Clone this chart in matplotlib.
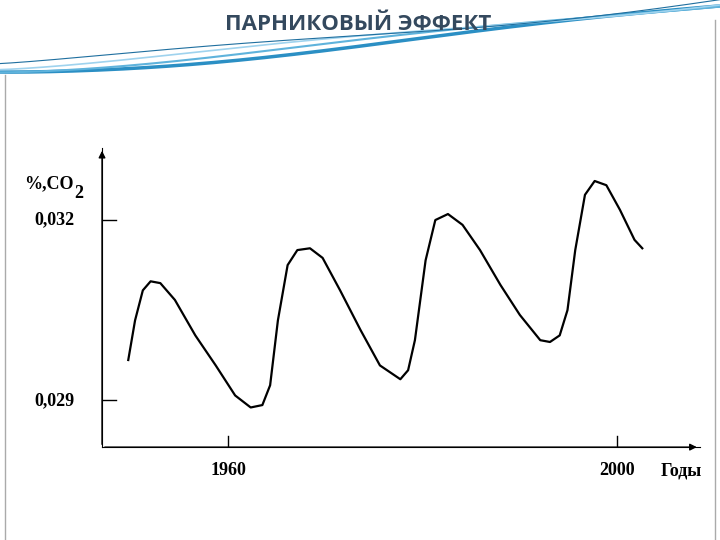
import matplotlib.pyplot as plt
import numpy as np

years = [1949.7, 1950.4, 1951.2, 1952.0, 1953.0, 1954.5, 1956.6, 1958.7, 1960.7, 1962.3,
         1963.5, 1964.3, 1965.1, 1966.1, 1967.1, 1968.4, 1969.7, 1971.5, 1973.6, 1975.6,
         1977.7, 1978.5, 1979.2, 1980.3, 1981.3, 1982.6, 1984.1, 1985.9, 1988.0, 1990.0,
         1992.1, 1993.1, 1994.1, 1994.9, 1995.7, 1996.7, 1997.7, 1998.9, 2000.3, 2001.8, 2002.6]
co2 = [0.02967, 0.03033, 0.03083, 0.03098, 0.03095, 0.03067, 0.03008, 0.02958, 0.02908, 0.02888,
       0.02892, 0.02925, 0.03033, 0.03125, 0.03150, 0.03153, 0.03137, 0.03083, 0.03017, 0.02958,
       0.02935, 0.02950, 0.03000, 0.03133, 0.03200, 0.03210, 0.03192, 0.03150, 0.03092, 0.03042,
       0.03000, 0.02997, 0.03008, 0.03050, 0.03150, 0.03242, 0.03265, 0.03258, 0.03217, 0.03167, 0.03153]
x_ticks = [1960, 2000]
y_ticks = [0.029, 0.032]
y_labels = ["0,029", "0,032"]

fig = plt.figure(figsize=(7.2, 5.4), dpi=100)

# slide background decoration
bg = fig.add_axes([0, 0, 1, 1])
bg.set_xlim(0, 720); bg.set_ylim(540, 0); bg.axis("off")
t = np.linspace(0, 720, 200)
for k, (c, w) in enumerate([("#2b8fc4", 2.5), ("#5fb3dc", 1.5), ("#9fd3ee", 1.2), ("#1f6f9f", 0.8)]):
    bg.plot(t, 72 - 65 * (t / 720) ** 1.3 + 4 * np.sin(t / 120 + k) - k * 3, color=c, lw=w)
bg.plot([5, 5], [75, 540], color="#aaaaaa", lw=1)
bg.plot([715, 715], [20, 540], color="#aaaaaa", lw=1)
bg.text(358, 25, "ПАРНИКОВЫЙ ЭФФЕКТ", ha="center", va="center", fontsize=16,
        fontweight="bold", color="#34495e", family="Open Sans")

ax = fig.add_axes([0.1417, 0.172, 0.83, 0.554])
x0, x1 = 1947.0, 2008.5
y0, y1 = 0.02822, 0.03320
ax.set_xlim(x0, x1); ax.set_ylim(y0, y1)
ax.patch.set_alpha(0)
for s in ["top", "right"]:
    ax.spines[s].set_visible(False)
ax.set_xticks([]); ax.set_yticks([])
ax.annotate("", xy=(x1, y0), xytext=(x0, y0), annotation_clip=False,
            arrowprops=dict(arrowstyle="-|>", color="black", lw=1))
ax.annotate("", xy=(x0, y1), xytext=(x0, y0), annotation_clip=False,
            arrowprops=dict(arrowstyle="-|>", color="black", lw=1))

ax.plot(years, co2, color="black", lw=1.6, solid_joinstyle="round")

serif = dict(family="Liberation Serif", fontweight="bold", fontsize=13)
for yv, lab in zip(y_ticks, y_labels):
    ax.plot([x0, x0 + 1.4], [yv, yv], color="black", lw=1)
    ax.text(x0 - 2.8, yv, lab, ha="right", va="center", **serif)
for xv in x_ticks:
    ax.plot([xv, xv], [y0, y0 + 0.00018], color="black", lw=1)
    ax.text(xv, y0 - 0.00025, str(xv), ha="center", va="top", **serif)
ax.text(2006.6, y0 - 0.00025, "Годы", ha="center", va="top", **serif)
ax.text(x0 - 8.0, 0.0326, "%,CO", ha="left", va="center", **serif)
ax.text(x0 - 2.9, 0.03245, "2", ha="left", va="center", **serif)

fig.savefig("out.png", dpi=100)
